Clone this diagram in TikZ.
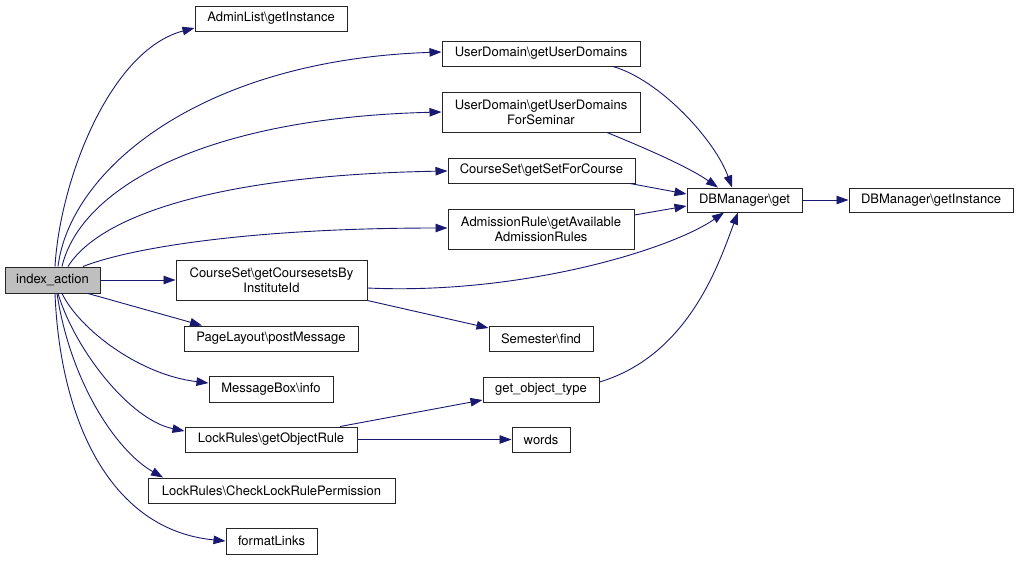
\documentclass[tikz,border=0pt]{standalone}
\usepackage{fontspec}
\setmainfont{TeX Gyre Heros}
\usetikzlibrary{arrows.meta}
\definecolor{edgecol}{HTML}{191970}
\definecolor{idxfill}{HTML}{BFBFBF}
\newcommand{\bs}{\textbackslash}
\begin{document}
\begin{tikzpicture}[x=1pt,y=-1pt,
 fn/.style={draw=black!85, line width=1pt, fill=white, inner sep=0pt, align=center, font=\fontsize{13}{15}\selectfont},
 call/.style={draw=edgecol, line width=0.9pt, -{Triangle[length=12pt,width=8.5pt]}},
]
\useasboundingbox (0,0) rectangle (1017,560);
\fill[white] (0,0) rectangle (1017,560);

\node[fn, fill=idxfill, minimum width=95pt, minimum height=26pt] (idx) at (52.5,280) {index\_action};
\node[fn, minimum width=152pt, minimum height=25pt] (adm) at (271,18.5) {AdminList\bs getInstance};
\node[fn, minimum width=198pt, minimum height=25pt] (ud) at (541,53.5) {UserDomain\bs getUserDomains};
\node[fn, minimum width=198pt, minimum height=40pt] (uds) at (541,112) {UserDomain\bs getUserDomains\\ForSeminar};
\node[fn, minimum width=187pt, minimum height=25pt] (scf) at (541.5,170.5) {CourseSet\bs getSetForCourse};
\node[fn, minimum width=186pt, minimum height=40pt] (ar) at (541,229) {AdmissionRule\bs getAvailable\\AdmissionRules};
\node[fn, minimum width=115pt, minimum height=24pt] (db) at (744.5,200) {DBManager\bs get};
\node[fn, minimum width=164pt, minimum height=24pt] (dbi) at (931,200) {DBManager\bs getInstance};
\node[fn, minimum width=191pt, minimum height=40pt] (cs) at (271.5,280) {CourseSet\bs getCoursesetsBy\\InstituteId};
\node[fn, minimum width=174pt, minimum height=25pt] (pl) at (271,338.5) {PageLayout\bs postMessage};
\node[fn, minimum width=124pt, minimum height=26pt] (mb) at (271,389) {MessageBox\bs info};
\node[fn, minimum width=172pt, minimum height=25pt] (lr) at (271,439.5) {LockRules\bs getObjectRule};
\node[fn, minimum width=247pt, minimum height=25pt] (cl) at (271.5,490.5) {LockRules\bs CheckLockRulePermission};
\node[fn, minimum width=91pt, minimum height=26pt] (fl) at (271.5,541) {formatLinks};
\node[fn, minimum width=104pt, minimum height=25pt] (sem) at (541,338.5) {Semester\bs find};
\node[fn, minimum width=116pt, minimum height=25pt] (got) at (541,389.5) {get\_object\_type};
\node[fn, minimum width=58pt, minimum height=25pt] (wd) at (541,439.5) {words};

% from index_action, upward fan
\draw[call] ([xshift=2.5pt]idx.north) .. controls (60,180) and (110,50) .. ([yshift=-9.5pt]adm.west);
\draw[call] ([xshift=5.5pt]idx.north) .. controls (70,170) and (200,60) .. ([yshift=1.5pt]ud.west);
\draw[call] ([xshift=9.5pt]idx.north) .. controls (80,190) and (200,118) .. (uds.west);
\draw[call] ([xshift=15.5pt]idx.north) .. controls (100,215) and (220,175) .. ([yshift=-0.5pt]scf.west);
\draw[call] ([xshift=30.5pt]idx.north) .. controls (130,248) and (250,228) .. ([yshift=1pt]ar.west);
\draw[call] (idx.east) -- (cs.west);
% downward fan
\draw[call] ([xshift=35.5pt]idx.south) -- ([xshift=-69pt]pl.north);
\draw[call] ([xshift=9.5pt]idx.south) .. controls (80,330) and (140,375) .. ([yshift=6pt]mb.west);
\draw[call] ([xshift=5.5pt]idx.south) .. controls (75,350) and (130,420) .. ([yshift=8.5pt]lr.west);
\draw[call] ([xshift=4.5pt]idx.south) .. controls (70,380) and (115,450) .. ([xshift=-108.5pt]cl.north);
\draw[call] ([xshift=2.5pt]idx.south) .. controls (60,420) and (110,530) .. (fl.west);
% into DBManager\get
\draw[call] ([xshift=72pt]ud.south) .. controls (660,80) and (715,140) .. ([xshift=-12.5pt]db.north);
\draw[call] ([xshift=66pt]uds.south) .. controls (650,150) and (690,168) .. ([xshift=-26.5pt]db.north);
\draw[call] ([xshift=88.5pt]scf.south) -- ([yshift=6pt]db.west);
\draw[call] ([yshift=14pt]ar.east) -- ([yshift=-6pt]db.west);
\draw[call] ([yshift=-8pt]cs.east) .. controls (520,295) and (670,250) .. ([xshift=-20.5pt]db.south);
\draw[call] ([yshift=7.5pt]got.east) .. controls (690,355) and (720,260) .. ([xshift=-6.5pt]db.south);
\draw[call] (db.east) -- (dbi.west);
% others
\draw[call] (cs.south east) -- ([yshift=10.5pt]sem.west);
\draw[call] ([xshift=69pt]lr.north) -- ([yshift=-10.5pt]got.west);
\draw[call] (lr.east) -- (wd.west);
\end{tikzpicture}
\end{document}
